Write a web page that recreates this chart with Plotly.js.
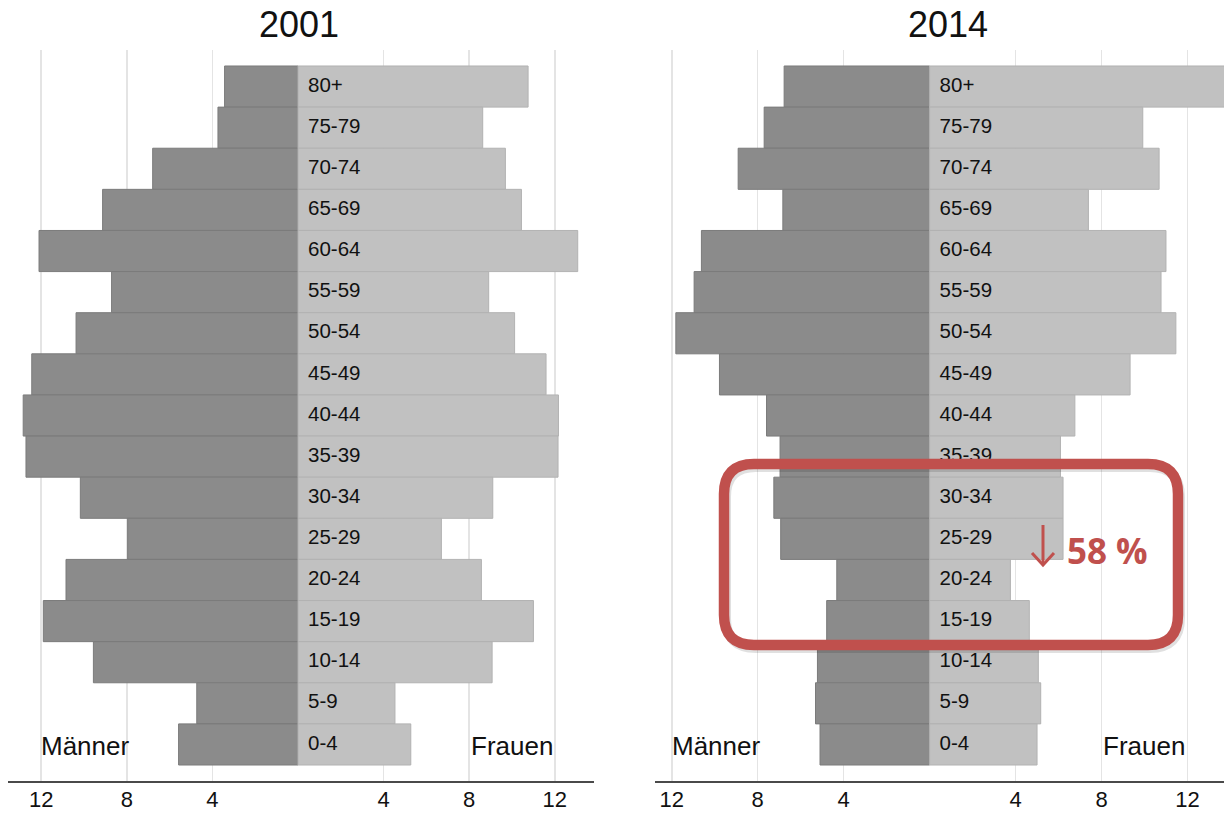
<!DOCTYPE html>
<html>
<head>
<meta charset="utf-8">
<script src="https://cdn.plot.ly/plotly-3.0.1.min.js"></script>
<style>html,body{margin:0;padding:0;background:#fff;}#chart{width:1224px;height:814px;}</style>
</head>
<body>
<div id="chart"></div>
<script>
// ---- data (percent of population by age group) ----
const ages = ["80+","75-79","70-74","65-69","60-64","55-59","50-54","45-49","40-44","35-39","30-34","25-29","20-24","15-19","10-14","5-9","0-4"];
const men2001   = [3.43,3.74,6.79,9.13,12.10,8.71,10.37,12.44,12.84,12.71,10.17,7.96,10.84,11.90,9.56,4.73,5.58];
const women2001 = [10.75,8.63,9.69,10.44,13.07,8.91,10.12,11.59,12.17,12.15,9.10,6.70,8.57,11.00,9.07,4.53,5.27];
const men2014   = [6.77,7.70,8.91,6.83,10.62,10.96,11.81,9.78,7.59,6.96,7.25,6.93,4.32,4.79,5.22,5.31,5.10];
const women2014 = [14.20,9.92,10.68,7.39,11.00,10.77,11.46,9.33,6.76,6.09,6.21,6.21,3.76,4.64,5.06,5.17,5.00];
const years = ["2001","2014"];
const tickVals = [-12,-8,-4,4,8,12];
const tickText = ["12","8","4","4","8","12"];
const sexLabels = ["Männer","Frauen"];
const changeLabel = "58 %";

// ---- styling ----
const FONT = "Liberation Sans, Arial, sans-serif";
const MEN_COLOR = "#8b8b8b", WOMEN_COLOR = "#c1c1c1";
const RED = "#c0504d";

// layout geometry (pixels)
const W = 1224, H = 814;
const mL = 8, mR = 0, mT = 50, mB = 33;
const plotW = W - mL - mR, plotH = H - mT - mB;
const px2x = p => (p - mL) / plotW;
const px2y = p => (H - mB - p) / plotH;

function barTrace(vals, neg, color, lineColor, xa, ya) {
  return {
    type: "bar", orientation: "h",
    x: vals.map(v => neg ? -v : v), y: ages,
    xaxis: xa, yaxis: ya,
    marker: {color: color, line: {color: lineColor, width: 1}},
    hoverinfo: "skip", showlegend: false
  };
}
function labelTrace(xa, ya) {
  return {
    type: "scatter", mode: "markers+text",
    x: ages.map(() => 0), y: ages, text: ages,
    textposition: "middle right",
    textfont: {family: FONT, size: 20.5, color: "#111"},
    marker: {size: 14.4, color: "rgba(0,0,0,0)"},
    xaxis: xa, yaxis: ya, hoverinfo: "skip", showlegend: false, cliponaxis: false
  };
}

const data = [
  barTrace(men2001, true, MEN_COLOR, "#7b7b7b", "x", "y"),
  barTrace(women2001, false, WOMEN_COLOR, "#b2b2b2", "x", "y"),
  barTrace(men2014, true, MEN_COLOR, "#7b7b7b", "x2", "y2"),
  barTrace(women2014, false, WOMEN_COLOR, "#b2b2b2", "x2", "y2"),
  labelTrace("x", "y"),
  labelTrace("x2", "y2")
];

const xBase = {
  tickvals: tickVals, ticktext: tickText,
  showgrid: true, gridcolor: "#e4e4e4", gridwidth: 1.5,
  zeroline: false, showline: true, linecolor: "#4a4a4a", linewidth: 2,
  ticks: "", tickfont: {family: FONT, size: 22, color: "#111"},
  ticklabelstandoff: -2,
  fixedrange: true
};
const yRange = [ages.length - 1 + 0.889, -0.889];
const yBase = {
  type: "category", range: yRange, autorange: false,
  showticklabels: false, showgrid: false, zeroline: false, showline: false, fixedrange: true
};

// rounded rectangle highlight
function roundRect(x1, y1, x2, y2, r, dx, dy) {
  const X = p => px2x(p + dx).toFixed(5), Y = p => px2y(p + dy).toFixed(5);
  return `M ${X(x1+r)},${Y(y1)} L ${X(x2-r)},${Y(y1)} Q ${X(x2)},${Y(y1)} ${X(x2)},${Y(y1+r)} ` +
         `L ${X(x2)},${Y(y2-r)} Q ${X(x2)},${Y(y2)} ${X(x2-r)},${Y(y2)} ` +
         `L ${X(x1+r)},${Y(y2)} Q ${X(x1)},${Y(y2)} ${X(x1)},${Y(y2-r)} ` +
         `L ${X(x1)},${Y(y1+r)} Q ${X(x1)},${Y(y1)} ${X(x1+r)},${Y(y1)} Z`;
}
const rect = [724, 464, 1178, 645, 30];
const arrowX = 1043;

const shapes = [
  {type: "path", xref: "paper", yref: "paper", layer: "above",
   path: roundRect(rect[0], rect[1], rect[2], rect[3], rect[4], 2, 3),
   line: {color: "rgba(0,0,0,0.12)", width: 10}},
  {type: "path", xref: "paper", yref: "paper", layer: "above",
   path: roundRect(rect[0], rect[1], rect[2], rect[3], rect[4], 0, 0),
   line: {color: RED, width: 10.5}},
  {type: "path", xref: "paper", yref: "paper", layer: "above",
   path: `M ${px2x(arrowX)},${px2y(525)} L ${px2x(arrowX)},${px2y(564)}`,
   line: {color: RED, width: 3}},
  {type: "path", xref: "paper", yref: "paper", layer: "above",
   path: `M ${px2x(arrowX-11)},${px2y(553)} L ${px2x(arrowX)},${px2y(565)} L ${px2x(arrowX+11)},${px2y(553)}`,
   line: {color: RED, width: 3}}
];

const annotations = [];
// panel titles
[[299, years[0]], [948, years[1]]].forEach(([p, t]) => annotations.push({
  xref: "paper", yref: "paper", x: px2x(p), y: px2y(24), text: t, showarrow: false,
  xanchor: "center", yanchor: "middle", font: {family: FONT, size: 36, color: "#111"}
}));
// Männer / Frauen
[["x","y"],["x2","y2"]].forEach(([xa, ya]) => {
  annotations.push({xref: xa, yref: ya, x: -12, y: ages[ages.length-1], text: sexLabels[0],
    showarrow: false, xanchor: "left", yanchor: "middle", yshift: -2, xshift: -2,
    font: {family: FONT, size: 26, color: "#111"}});
  annotations.push({xref: xa, yref: ya, x: 12, y: ages[ages.length-1], text: sexLabels[1],
    showarrow: false, xanchor: "right", yanchor: "middle", yshift: -2,
    font: {family: FONT, size: 26, color: "#111"}});
});
// change label
annotations.push({xref: "paper", yref: "paper", x: px2x(1107), y: px2y(550), text: "<b>" + changeLabel + "</b>",
  showarrow: false, xanchor: "center", yanchor: "middle",
  font: {family: "Open Sans, sans-serif", size: 35, color: RED}});

const layout = {
  width: W, height: H,
  margin: {l: mL, r: mR, t: mT, b: mB, pad: 0},
  paper_bgcolor: "#fff", plot_bgcolor: "#fff",
  barmode: "overlay", bargap: 0,
  showlegend: false,
  xaxis: Object.assign({}, xBase, {domain: [0, px2x(594)], range: [-13.55, 13.83], anchor: "y"}),
  xaxis2: Object.assign({}, xBase, {domain: [px2x(655), 1], range: [-12.78, 13.70], anchor: "y2"}),
  yaxis: Object.assign({}, yBase, {anchor: "x"}),
  yaxis2: Object.assign({}, yBase, {anchor: "x2"}),
  shapes: shapes,
  annotations: annotations
};

Plotly.newPlot("chart", data, layout, {displayModeBar: false, staticPlot: true});
</script>
</body>
</html>
